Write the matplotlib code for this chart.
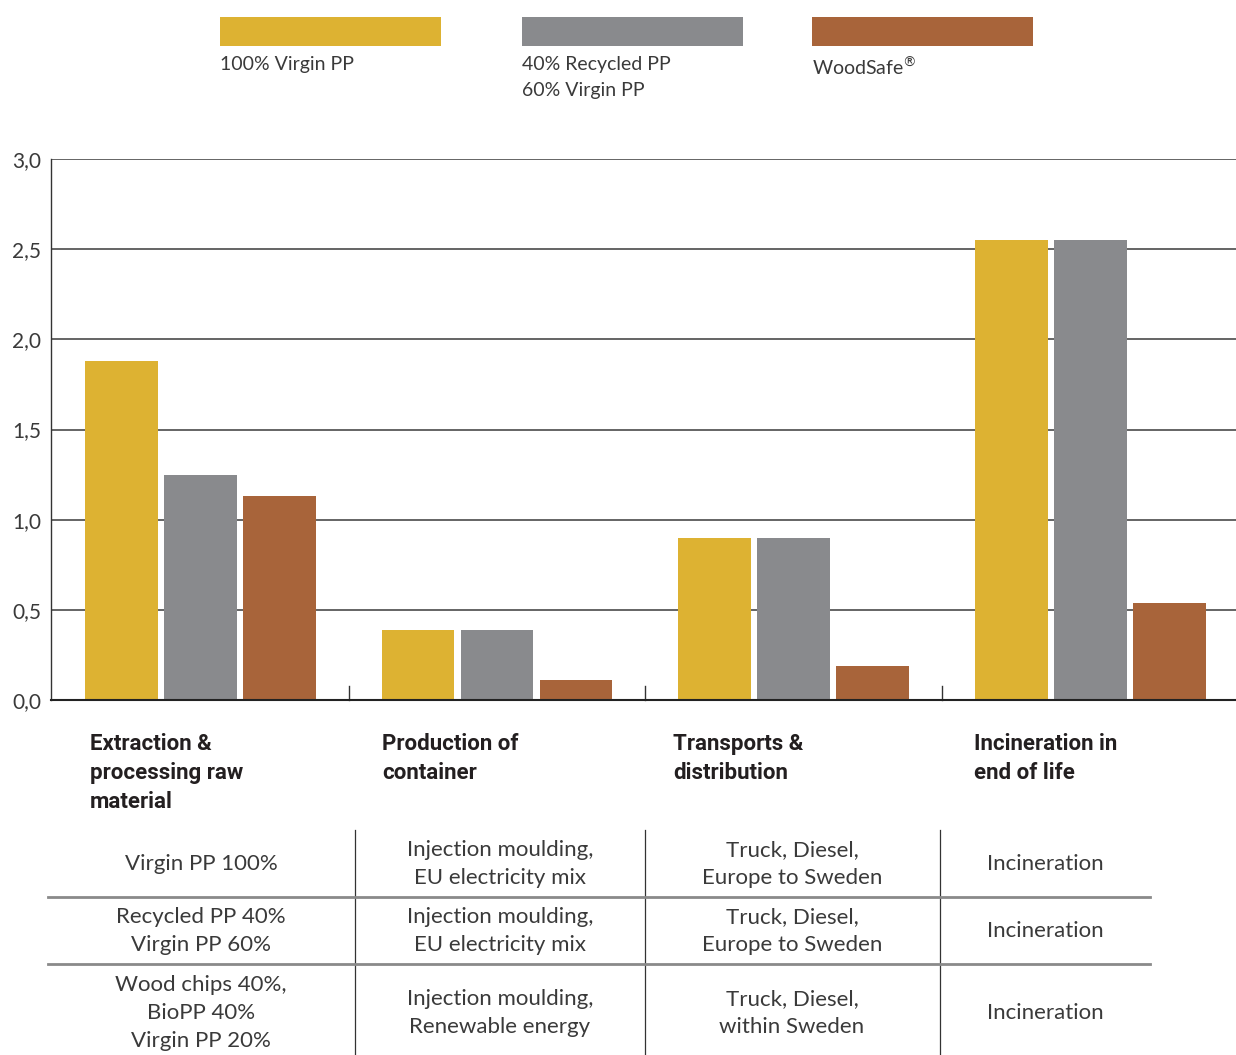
import numpy as np
import matplotlib
matplotlib.use("Agg")
import matplotlib.pyplot as plt
from matplotlib.patches import Rectangle
from matplotlib.lines import Line2D
from matplotlib.ticker import FuncFormatter


# ============================================================
# DATA
# ============================================================

stages = [
    "Extraction &\nprocessing raw\nmaterial",
    "Production of\ncontainer",
    "Transports &\ndistribution",
    "Incineration in\nend of life",
]

series_names = ["100% Virgin PP", "40% Recycled PP\n60% Virgin PP", "WoodSafe$^{\u00ae}$"]
virgin_pp = [1.88, 0.39, 0.90, 2.55]
recycled_pp = [1.25, 0.39, 0.90, 2.55]
woodsafe = [1.13, 0.11, 0.19, 0.54]

colors = ["#DDB232", "#898A8D", "#A8643A"]

yticks = [0.0, 0.5, 1.0, 1.5, 2.0, 2.5, 3.0]

table_rows = [
    ["Virgin PP 100%", "Injection moulding,\nEU electricity mix",
     "Truck, Diesel,\nEurope to Sweden", "Incineration"],
    ["Recycled PP 40%\nVirgin PP 60%", "Injection moulding,\nEU electricity mix",
     "Truck, Diesel,\nEurope to Sweden", "Incineration"],
    ["Wood chips 40%,\nBioPP 40%\nVirgin PP 20%", "Injection moulding,\nRenewable energy",
     "Truck, Diesel,\nwithin Sweden", "Incineration"],
]


# ============================================================
# LAYOUT HELPERS (pixel -> figure coords)
# ============================================================

W, H = 1236, 1055


def fx(x):
    return x / W


def fy(y):
    return 1 - y / H


LIGHT = "Lato"
BOLD = "Roboto"
TXT = "#3a3a3a"

plt.rcParams["mathtext.fontset"] = "custom"
plt.rcParams["mathtext.rm"] = "DejaVu Sans"

fig = plt.figure(figsize=(W / 100, H / 100), dpi=100)


# ============================================================
# BAR CHART
# ============================================================

ax = fig.add_axes([fx(51), fy(700), fx(1236) - fx(51), (700 - 159) / H])

x = np.arange(len(stages))
width = 0.246
offset = 0.2664

for i, (vals, c) in enumerate(zip([virgin_pp, recycled_pp, woodsafe], colors)):
    ax.bar(x + (i - 1) * offset, vals, width=width, color=c, zorder=3, linewidth=0)

ax.set_xlim(-0.504, 3.492)
ax.set_ylim(0, 3.0)
ax.set_yticks(yticks)
ax.yaxis.set_major_formatter(FuncFormatter(lambda v, p: f"{v:.1f}".replace(".", ",")))
ax.tick_params(axis="y", length=0, pad=7, labelsize=15, labelcolor=TXT)
for lab in ax.get_yticklabels():
    lab.set_fontfamily(LIGHT)

ax.set_xticks([])
ax.grid(axis="y", color="#4a4a4a", linewidth=1.2, zorder=0)

for s in ["top", "right"]:
    ax.spines[s].set_visible(False)
ax.spines["left"].set_color("#333333")
ax.spines["left"].set_linewidth(1.0)
ax.spines["bottom"].set_color("#222222")
ax.spines["bottom"].set_linewidth(1.5)
ax.spines["bottom"].set_zorder(4)

# small group separators on the baseline
for d in x[:-1] + 0.5:
    ax.plot([d, d], [0, 0.075], color="#333333", linewidth=1.0, zorder=4, clip_on=False)

# stage labels
label_x = [90, 382, 673, 974]
for lx, name in zip(label_x, stages):
    fig.text(fx(lx), fy(733), name, ha="left", va="top", fontsize=16,
             fontweight="bold", family=BOLD, color="#231f20", linespacing=1.42)


# ============================================================
# LEGEND
# ============================================================

leg_x = [220, 522, 812]
for lx, name, c in zip(leg_x, series_names, colors):
    fig.add_artist(Rectangle((fx(lx), fy(46)), 221 / W, 29 / H,
                             transform=fig.transFigure, color=c, linewidth=0))
    fig.text(fx(lx), fy(56), name, ha="left", va="top", fontsize=14,
             family=LIGHT, color=TXT, linespacing=1.65)


# ============================================================
# TABLE
# ============================================================

col_x = [201, 500, 792, 1045]
row_y = [864, 931, 1013]

for ry, row in zip(row_y, table_rows):
    for cx, cell in zip(col_x, row):
        fig.text(fx(cx), fy(ry), cell, ha="center", va="center", fontsize=16,
                 family=LIGHT, color=TXT, linespacing=1.5)

for vx in [355, 645, 940]:
    fig.add_artist(Line2D([fx(vx), fx(vx)], [fy(830), fy(1055)],
                          transform=fig.transFigure, color="#333333", linewidth=0.9))

for hy in [897, 964]:
    fig.add_artist(Line2D([fx(48), fx(1150)], [fy(hy), fy(hy)],
                          transform=fig.transFigure, color="#8a8a8a", linewidth=2.0))

fig.savefig("out.png", dpi=100)
